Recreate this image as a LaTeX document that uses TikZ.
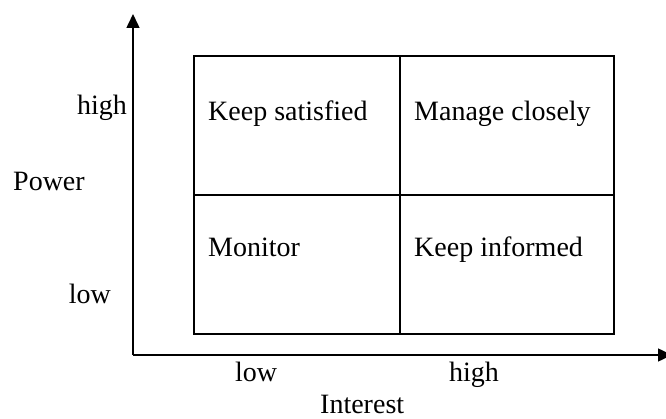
\documentclass[tikz,border=0pt]{standalone}
\usepackage{fontspec}
\setmainfont{Liberation Serif}
\usetikzlibrary{arrows.meta}
\begin{document}
\begin{tikzpicture}[x=1pt,y=1pt,
  axis/.style={line width=1.5pt,-{Triangle[length=14pt,width=13pt]}},
  grid/.style={line width=1.2pt},
  lbl/.style={font=\fontsize{28}{32}\selectfont,inner sep=0pt},
  cell/.style={lbl,anchor=base west}]
\useasboundingbox (0,0) rectangle (666,418);
% axes
\coordinate (o) at (133,63);
\coordinate (ytop) at (133,404);
\coordinate (xend) at (672,63);
\draw[axis] (o) -- (ytop);
\draw[axis] (o) -- (xend);
% quadrant grid
\coordinate (bl) at (194,84);
\coordinate (tr) at (614,362);
\draw[grid] (bl) rectangle (tr);
\draw[grid] (400,84) -- (400,362);
\draw[grid] (194,223) -- (614,223);
% quadrant labels
\node[cell] (ks) at (208,297) {Keep satisfied};
\node[cell] (mc) at (414,297) {Manage closely};
\node[cell] (mo) at (208,161) {Monitor};
\node[cell] (ki) at (414,161) {Keep informed};
% axis labels
\node[lbl,anchor=base east] (ph) at (127,303) {high};
\node[lbl,anchor=base west] (pw) at (13,227) {Power};
\node[lbl,anchor=base east] (pl) at (111,115) {low};
\node[lbl,anchor=base west] (il) at (235,37) {low};
\node[lbl,anchor=base west] (ih) at (449,37) {high};
\node[lbl,anchor=base west] (it) at (320,5) {Interest};
\end{tikzpicture}
\end{document}
